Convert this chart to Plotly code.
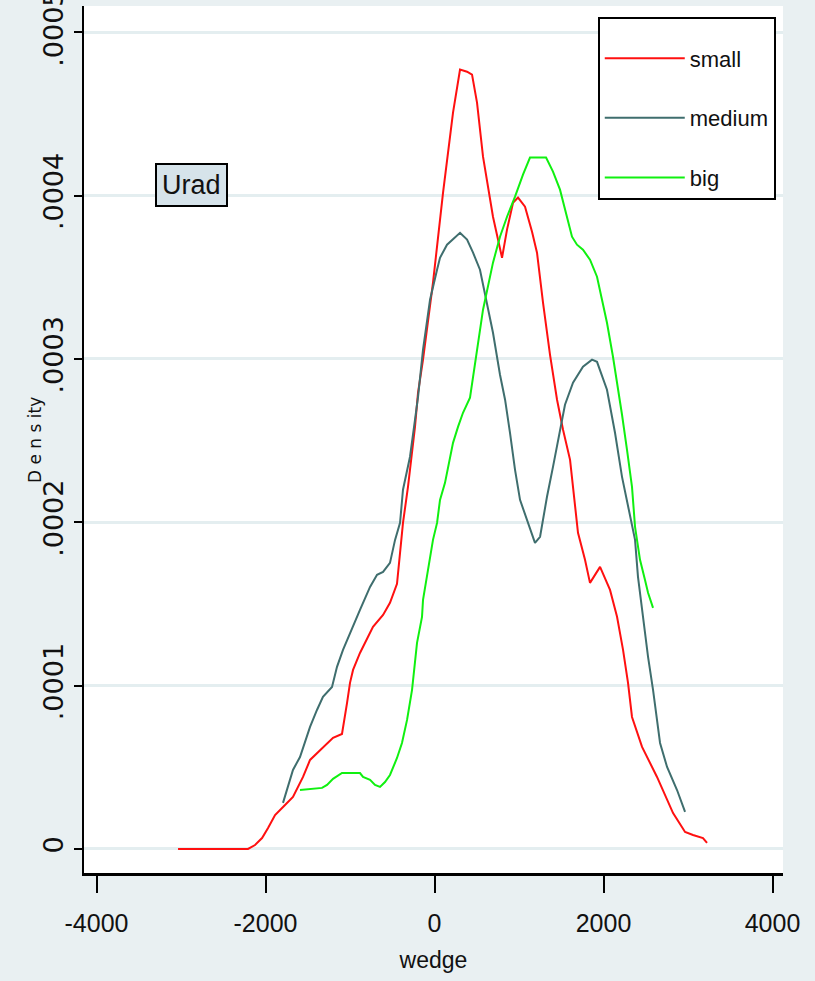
import plotly.graph_objects as go

# ---- data ----
small_x = [-3035, -2207, -2124, -2041, -1970, -1887, -1769, -1675, -1556, -1473, -1201, -1095,
           -1035, -1000, -964, -882, -728, -609, -527, -444, -408, -373, -314, -266, -231, -195,
           -136, -18, 101, 219, 302, 385, 444, 503, 574, 692, 799, 858, 929, 988, 1071, 1154,
           1213, 1284, 1367, 1450, 1521, 1604, 1698, 1781, 1840, 1959, 2077, 2160, 2231, 2290,
           2337, 2456, 2633, 2823, 2965, 3059, 3177, 3225]
small_y = [0, 0, 2.4e-6, 6.7e-6, 1.29e-5, 2.08e-5, 2.69e-5, 3.18e-5, 4.41e-5, 5.45e-5, 6.80e-5,
           7.04e-5, 8.94e-5, 1.017e-4, 1.096e-4, 1.200e-4, 1.360e-4, 1.433e-4, 1.507e-4, 1.623e-4,
           1.813e-4, 1.996e-4, 2.217e-4, 2.425e-4, 2.584e-4, 2.793e-4, 2.995e-4, 3.466e-4,
           4.017e-4, 4.507e-4, 4.771e-4, 4.758e-4, 4.740e-4, 4.569e-4, 4.238e-4, 3.870e-4,
           3.619e-4, 3.791e-4, 3.956e-4, 3.987e-4, 3.932e-4, 3.778e-4, 3.650e-4, 3.344e-4,
           3.025e-4, 2.750e-4, 2.566e-4, 2.382e-4, 1.935e-4, 1.770e-4, 1.629e-4, 1.727e-4,
           1.586e-4, 1.421e-4, 1.219e-4, 1.017e-4, 8.08e-5, 6.25e-5, 4.41e-5, 2.20e-5, 1.04e-5,
           8.6e-6, 6.7e-6, 3.7e-6]

medium_x = [-1793, -1675, -1592, -1473, -1391, -1320, -1213, -1154, -1083, -1000, -882, -763,
            -680, -609, -527, -467, -408, -373, -290, -231, -195, -136, -53, 30, 65, 148, 219,
            302, 385, 456, 538, 621, 692, 775, 835, 893, 953, 1012, 1130, 1189, 1249, 1331,
            1402, 1485, 1544, 1639, 1757, 1864, 1923, 2041, 2136, 2219, 2290, 2373, 2408, 2467,
            2527, 2586, 2669, 2752, 2870, 2965]
medium_y = [2.82e-5, 4.84e-5, 5.63e-5, 7.47e-5, 8.51e-5, 9.31e-5, 9.92e-5, 1.115e-4, 1.219e-4,
            1.323e-4, 1.464e-4, 1.604e-4, 1.678e-4, 1.696e-4, 1.751e-4, 1.892e-4, 1.996e-4,
            2.199e-4, 2.401e-4, 2.627e-4, 2.768e-4, 3.056e-4, 3.362e-4, 3.546e-4, 3.619e-4,
            3.699e-4, 3.730e-4, 3.772e-4, 3.730e-4, 3.650e-4, 3.546e-4, 3.344e-4, 3.160e-4,
            2.903e-4, 2.750e-4, 2.548e-4, 2.321e-4, 2.137e-4, 1.954e-4, 1.874e-4, 1.911e-4,
            2.156e-4, 2.339e-4, 2.548e-4, 2.719e-4, 2.854e-4, 2.952e-4, 2.995e-4, 2.982e-4,
            2.811e-4, 2.548e-4, 2.278e-4, 2.094e-4, 1.892e-4, 1.666e-4, 1.421e-4, 1.176e-4,
            9.74e-5, 6.49e-5, 5.02e-5, 3.61e-5, 2.27e-5]

big_x = [-1592, -1331, -1272, -1201, -1095, -882, -846, -763, -704, -645, -586, -527, -444,
         -385, -325, -266, -207, -148, -136, -77, -18, 30, 65, 124, 160, 219, 278, 337, 420,
         503, 574, 692, 775, 858, 953, 1047, 1130, 1320, 1402, 1485, 1544, 1627, 1686, 1757,
         1840, 1923, 1982, 2041, 2112, 2172, 2219, 2278, 2337, 2373, 2432, 2491, 2527, 2586]
big_y = [3.61e-5, 3.74e-5, 3.92e-5, 4.29e-5, 4.65e-5, 4.65e-5, 4.41e-5, 4.23e-5, 3.92e-5,
         3.80e-5, 4.10e-5, 4.53e-5, 5.57e-5, 6.49e-5, 7.90e-5, 9.74e-5, 1.262e-4, 1.421e-4,
         1.525e-4, 1.709e-4, 1.892e-4, 1.996e-4, 2.137e-4, 2.241e-4, 2.339e-4, 2.486e-4,
         2.584e-4, 2.670e-4, 2.762e-4, 3.056e-4, 3.301e-4, 3.589e-4, 3.748e-4, 3.870e-4,
         3.993e-4, 4.128e-4, 4.232e-4, 4.232e-4, 4.146e-4, 4.036e-4, 3.913e-4, 3.748e-4,
         3.699e-4, 3.668e-4, 3.607e-4, 3.503e-4, 3.362e-4, 3.221e-4, 3.013e-4, 2.829e-4,
         2.658e-4, 2.443e-4, 2.217e-4, 1.972e-4, 1.770e-4, 1.647e-4, 1.568e-4, 1.476e-4]

x_tickvals = [-4000, -2000, 0, 2000, 4000]
x_ticktext = ["-4000", "-2000", "0", "2000", "4000"]
y_tickvals = [0, 0.0001, 0.0002, 0.0003, 0.0004, 0.0005]
y_ticktext = ["0", ".0001", ".0002", ".0003", ".0004", ".0005"]

FONT = "Liberation Sans, Arial, sans-serif"

fig = go.Figure()
for name, xs, ys, col in [("small", small_x, small_y, "#ff1010"),
                          ("medium", medium_x, medium_y, "#3f6e6e"),
                          ("big", big_x, big_y, "#10f010")]:
    fig.add_trace(go.Scatter(x=xs, y=ys, mode="lines", name=name, legendgroup=name,
                             line=dict(color=col, width=2)))

fig.update_layout(
    width=815, height=981,
    margin=dict(l=84, r=32, t=6, b=108, autoexpand=False),
    paper_bgcolor="#e9f0f2",
    plot_bgcolor="white",
    font=dict(family=FONT, color="#111111"),
    showlegend=True,
    legend=dict(x=0.735, y=0.987, xanchor="left", yanchor="top",
                bgcolor="white", bordercolor="black", borderwidth=2,
                font=dict(size=22, family=FONT), tracegroupgap=28,
                itemwidth=80,
                title=dict(text=" ", font=dict(size=14))),
    xaxis=dict(range=[-4148, 4124], tickvals=x_tickvals, ticktext=x_ticktext,
               showgrid=False, zeroline=False, showline=True, linecolor="black",
               linewidth=3, ticks="outside", ticklen=17, tickwidth=2, tickcolor="black",
               automargin=False,
               tickfont=dict(size=25, family=FONT), ticklabelstandoff=9,
               title=dict(text="wedge", font=dict(size=23, family=FONT), standoff=16)),
    yaxis=dict(range=[-0.0000147, 0.000516], tickvals=y_tickvals, ticktext=y_ticktext,
               tickangle=-90, showgrid=True, gridcolor="#e4eef0", gridwidth=3,
               zeroline=False, showline=True, linecolor="black", linewidth=2,
               ticks="outside", ticklen=8, tickwidth=2, tickcolor="black",
               ticklabeloverflow="allow", automargin=False,
               tickfont=dict(size=27, family="DejaVu Sans")),
    annotations=[
        dict(x=-2870, y=0.0004066, xref="x", yref="y", text="Urad",
             showarrow=False, font=dict(size=27, family=FONT, color="#111111"),
             bgcolor="#d6e3ea", bordercolor="black", borderwidth=2, borderpad=5),
        dict(x=-0.0701, y=0.4994, xref="paper", yref="paper", text="D e n s ity",
             xanchor="center", yanchor="middle",
             textangle=-90, showarrow=False,
             font=dict(size=17, family="DejaVu Sans", color="#111111")),
    ],
)

fig.write_html("out.html", config={"displayModeBar": False},
               post_script="document.body.style.margin='0';")
